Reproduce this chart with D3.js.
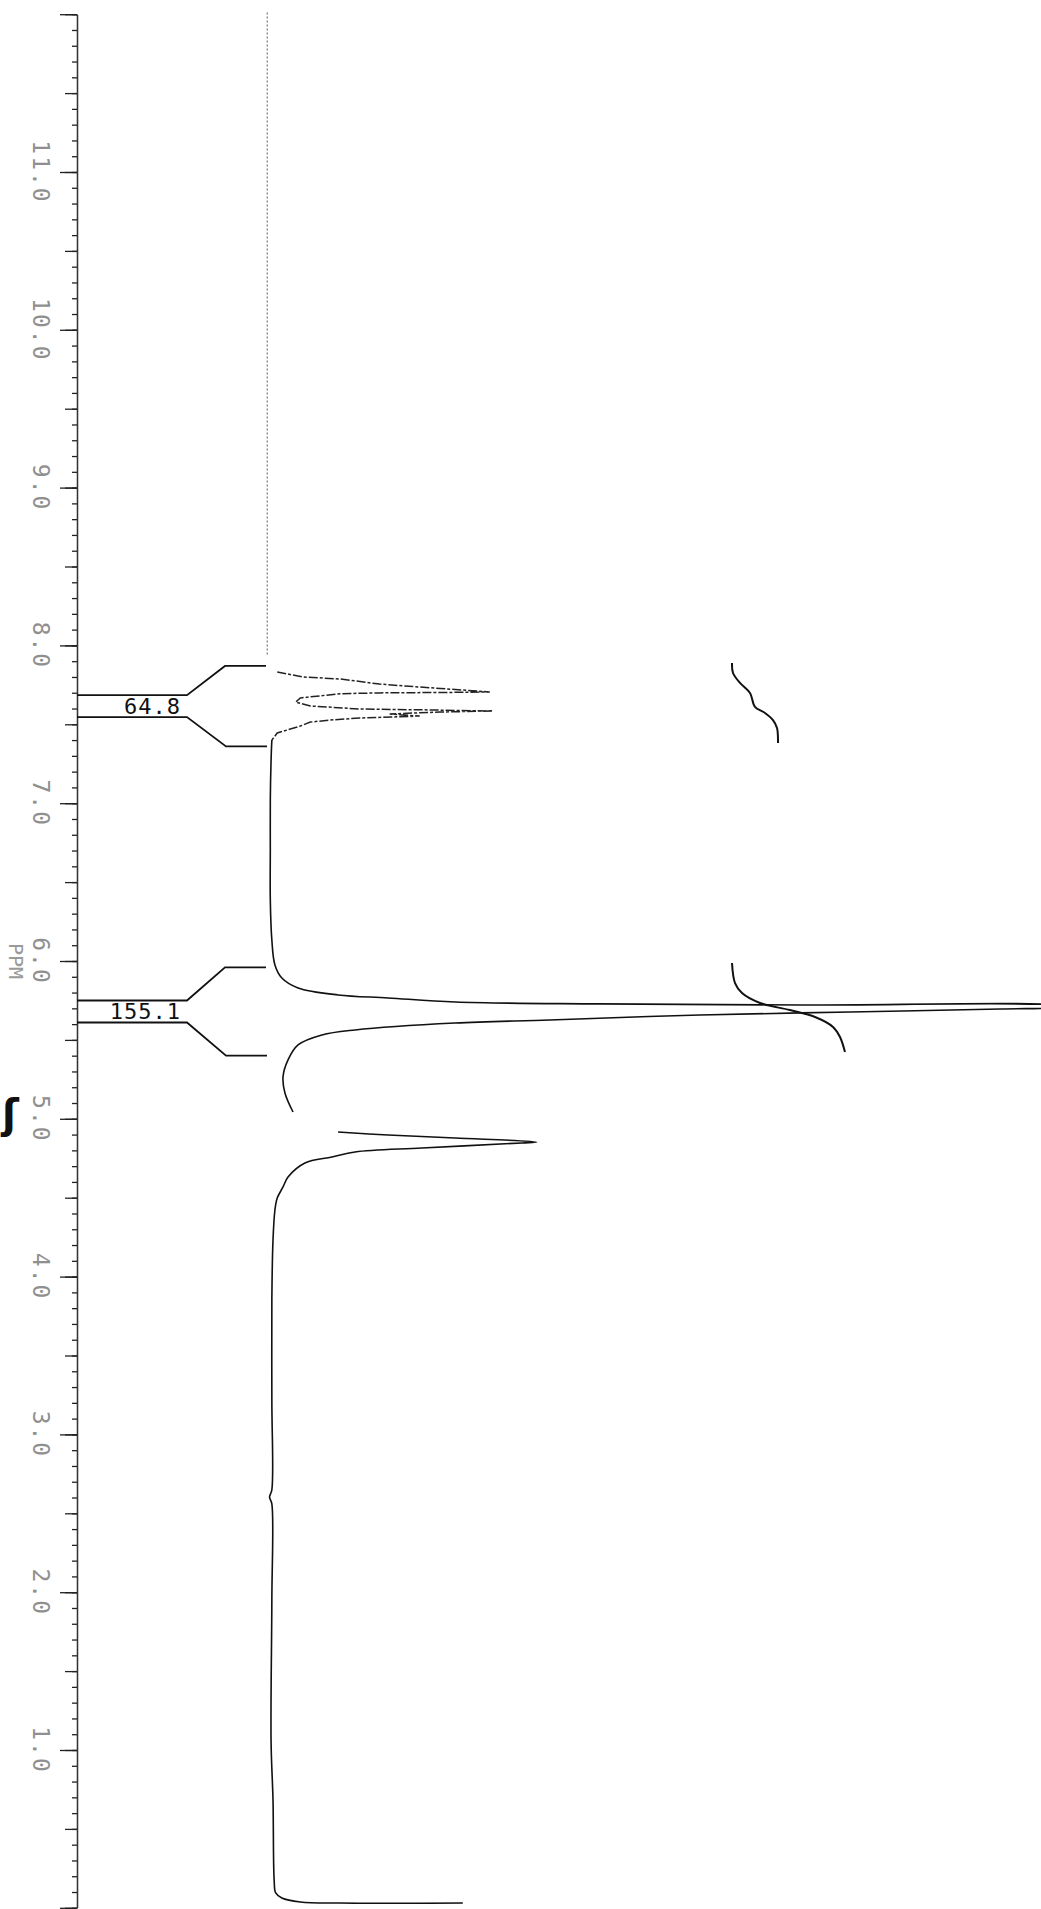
<!DOCTYPE html>
<html>
<head>
<meta charset="utf-8">
<script src="https://cdn.jsdelivr.net/npm/d3@7"></script>
<style>
  body { margin: 0; background: #fff; }
  svg { display: block; }
  .lbl { font-family: "DejaVu Sans Mono", monospace; }
</style>
</head>
<body>
<div id="vis"></div>
<script>
const frame_width = 1041;
const frame_height = 1909;

// ppm axis
const majorTicks = [12, 11, 10, 9, 8, 7, 6, 5, 4, 3, 2, 1, 0];
const tickLabels = ["11.0", "10.0", "9.0", "8.0", "7.0", "6.0", "5.0", "4.0", "3.0", "2.0", "1.0"];
const tickLabelPpm = [11, 10, 9, 8, 7, 6, 5, 4, 3, 2, 1];

// spectrum trace (ppm, relative intensity)
const topBasePpm = [12.01, 7.94];
const topBaseInt = [-0.1, -0.1];

const aroPpm = [7.831, 7.800, 7.787, 7.755, 7.736, 7.705, 7.702, 7.699, 7.694, 7.667, 7.641,
                7.616, 7.597, 7.591, 7.584, 7.578, 7.565, 7.552, 7.540, 7.527, 7.514, 7.489, 7.470, 7.445, 7.400];
const aroInt = [1.2, 4.6, 9.4, 14.5, 19.7, 28.8, 23.6, 14.5, 9.4, 4.2, 3.6,
                5.5, 11.9, 21.0, 29.2, 22.3, 15.8, 19.7, 11.9, 8.1, 5.5, 4.2, 2.9, 1.2, 0.5];

const mainPpm = [7.400, 7.274, 7.020, 6.703, 6.387, 6.133, 5.975, 5.892, 5.829, 5.785, 5.766, 5.740,
                 5.728, 5.721, 5.715, 5.709, 5.696, 5.677, 5.658, 5.626, 5.607, 5.563, 5.531,
                 5.468, 5.373, 5.265, 5.164, 5.043];
const mainInt = [0.5, 0.4, 0.3, 0.3, 0.3, 0.5, 0.9, 1.8, 3.9, 9.1, 15.6, 24.3,
                 43.1, 69.1, 102.9, 102.9, 95.1, 75.6, 56.1, 36.6, 24.3, 11.3, 7.0,
                 3.9, 2.6, 1.95, 2.2, 3.25];

const lowPpm = [4.916, 4.897, 4.878, 4.853, 4.847, 4.815, 4.790, 4.758, 4.720, 4.631, 4.568, 4.498,
                4.422, 4.232, 3.852, 3.218, 2.648, 2.603, 2.560, 1.95, 1.05, 0.683, 0.176,
                0.094, 0.062, 0.037, 0.030, 0.030];
const lowInt = [9.1, 15.6, 24.3, 34.9, 33.0, 20.0, 11.3, 8.3, 4.8, 2.6, 1.95, 1.2,
                0.9, 0.65, 0.5, 0.5, 0.5, 0.2, 0.5, 0.5, 0.4, 0.65, 0.8,
                1.0, 1.8, 4.2, 9.4, 25.3];

// integrals
const integralLabels = ["64.8", "155.1"];
const integralFrom = [7.87, 5.96];
const integralTo = [7.36, 5.40];

const intAroPpm = [7.889, 7.825, 7.762, 7.698, 7.610, 7.572, 7.527, 7.477, 7.401, 7.382];
const intAroVal = [1.4, 2.8, 12.5, 26.4, 33.3, 47.2, 58.3, 63.9, 65.3, 65.3];
const intMainPpm = [5.987, 5.860, 5.797, 5.734, 5.689, 5.645, 5.582, 5.518, 5.423];
const intMainVal = [1.4, 5.6, 15.3, 40.3, 81.9, 116.7, 141.7, 151.4, 158.3];

const FRAME = d3.select("#vis")
  .append("svg")
    .attr("width", frame_width)
    .attr("height", frame_height);

const Y_SCALE = d3.scaleLinear().domain([12, 0]).range([14.2, 14.2 + 12 * 157.8]);
const X_SCALE = d3.scaleLinear().domain([0, 100]).range([268, 1038]);
const I_SCALE = d3.scaleLinear().domain([0, 100]).range([731, 803]);
const AXIS_X = 77;

// axis: minor, medium, major ticks
const minorVals = d3.range(0, 121).map(i => i / 10);
const midVals = d3.range(0, 25).map(i => i / 2);

function tickLayer(vals, size) {
  const g = FRAME.append("g")
    .attr("transform", "translate(" + AXIS_X + ",0)")
    .call(d3.axisLeft(Y_SCALE).tickValues(vals).tickSize(size).tickSizeOuter(0).tickFormat(""));
  g.selectAll("line").attr("stroke", "#222").attr("stroke-width", 1.3);
  g.select(".domain").attr("stroke", "#333").attr("stroke-width", 1.2);
  return g;
}
tickLayer(minorVals, 5);
tickLayer(midVals, 12);
tickLayer(majorTicks, 17);

// rotated dot-matrix style tick labels
FRAME.selectAll(".tlab")
  .data(tickLabels)
  .enter()
  .append("text")
    .attr("class", "lbl tlab")
    .attr("transform", (d, i) => "translate(41," + Y_SCALE(tickLabelPpm[i]) + ") rotate(90)")
    .attr("text-anchor", "middle")
    .attr("dominant-baseline", "central")
    .attr("font-size", 23)
    .attr("letter-spacing", 2)
    .attr("fill", "#8f8f8f")
    .text(d => d);

FRAME.append("text")
  .attr("class", "lbl")
  .attr("transform", "translate(16," + Y_SCALE(6) + ") rotate(90)")
  .attr("text-anchor", "middle")
  .attr("dominant-baseline", "central")
  .attr("font-size", 20)
  .attr("fill", "#9a9a9a")
  .text("PPM");

// handwritten mark near 5.0
FRAME.append("text")
  .attr("x", 2)
  .attr("y", 1128)
  .attr("font-family", "DejaVu Sans")
  .attr("font-weight", "bold")
  .attr("font-size", 40)
  .attr("fill", "#111")
  .text("ʃ");

// spectrum
const zipPts = (p, v) => p.map((d, i) => [d, v[i]]);
const specLine = d3.line()
  .x(d => X_SCALE(d[1]))
  .y(d => Y_SCALE(d[0]))
  .curve(d3.curveCatmullRom.alpha(0.5));
const specLineStraight = d3.line()
  .x(d => X_SCALE(d[1]))
  .y(d => Y_SCALE(d[0]));

FRAME.append("path")
  .attr("d", specLineStraight(zipPts(topBasePpm, topBaseInt)))
  .attr("fill", "none")
  .attr("stroke", "#777")
  .attr("stroke-width", 1.2)
  .attr("stroke-dasharray", "2,2");

FRAME.append("path")
  .attr("d", specLineStraight(zipPts(aroPpm, aroInt)))
  .attr("fill", "none")
  .attr("stroke", "#222")
  .attr("stroke-width", 1.5)
  .attr("stroke-dasharray", "9,2,3,2");

[[mainPpm, mainInt], [lowPpm, lowInt]].forEach(s => {
  FRAME.append("path")
    .attr("d", specLine(zipPts(s[0], s[1])))
    .attr("fill", "none")
    .attr("stroke", "#111")
    .attr("stroke-width", 1.6);
});

// integral traces
const intLine = d3.line()
  .x(d => I_SCALE(d[1]))
  .y(d => Y_SCALE(d[0]))
  .curve(d3.curveCatmullRom.alpha(0.5));
[[intAroPpm, intAroVal], [intMainPpm, intMainVal]].forEach(s => {
  FRAME.append("path")
    .attr("d", intLine(zipPts(s[0], s[1])))
    .attr("fill", "none")
    .attr("stroke", "#111")
    .attr("stroke-width", 2);
});

// integral brackets and values
integralLabels.forEach((lab, i) => {
  const yc = Y_SCALE((integralFrom[i] + integralTo[i]) / 2);
  const yTop = Y_SCALE(integralFrom[i]);
  const yBot = Y_SCALE(integralTo[i]);
  FRAME.append("path")
    .attr("d", "M" + AXIS_X + "," + (yc - 11) + "H187L225," + yTop + "H266")
    .attr("fill", "none").attr("stroke", "#111").attr("stroke-width", 1.8);
  FRAME.append("path")
    .attr("d", "M" + AXIS_X + "," + (yc + 11) + "H187L226," + yBot + "H267")
    .attr("fill", "none").attr("stroke", "#111").attr("stroke-width", 1.8);
  FRAME.append("text")
    .attr("class", "lbl")
    .attr("x", 181)
    .attr("y", yc + 8)
    .attr("text-anchor", "end")
    .attr("font-size", 22)
    .attr("letter-spacing", 1)
    .attr("fill", "#111")
    .text(lab);
});
</script>
</body>
</html>
